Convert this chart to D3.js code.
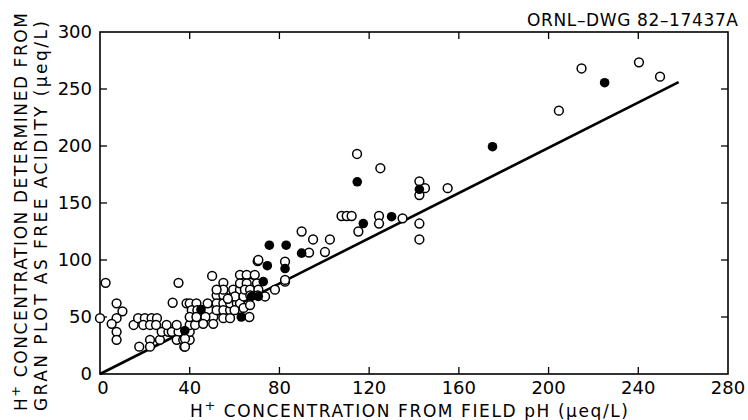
<!DOCTYPE html>
<html>
<head>
<meta charset="utf-8">
<script src="https://cdn.jsdelivr.net/npm/d3@7"></script>
<style>
  body { margin: 0; background: #fff; }
  text { font-family: "DejaVu Sans", sans-serif; fill: #000; }
</style>
</head>
<body>
<div id="viz"></div>
<script>
// tick values
var xTicks = [0, 40, 80, 120, 160, 200, 240, 280];
var yTicks = [0, 50, 100, 150, 200, 250, 300];

// open circles [field pH H+, Gran plot H+]
var openPts = [
  [0,49],[2.5,80],[7.4,62],[10,55],[7.4,49],[5.2,44],[7.4,37],[7.4,30],
  [15,43],[17,49],[20,49],[23,49],[25.4,49],[19.3,43],[22.3,43],[25,43],[22.3,30],[26.7,30],
  [17.5,24],[22.3,24],[27.5,37],[30.5,37],[29.7,43],[32,37],[35,37],[34.2,43],[34.2,30],
  [37.1,30],[40,30],[37.6,24],[40,37],[40,43],[35,80],[32.4,62.5],
  [38.6,62],[40,62],[43,62],[40.9,56],[43.4,56],[48.5,56],[42.4,49],[45.3,49],[42.4,43],
  [40,50],[43,50],[50.5,50],[50.5,44],[50,86],[52,69],[55,69],[55,80],[52,62],[55,62],
  [52,56],[55,56],[58,56],[55,49],[58,49],[58,62],[61,62],[61,69],[64,69],[55,74],[59.4,69],
  [62.4,62],[59.4,74],[62.4,74],[60.2,68],[64,68],[37.9,31],[37.9,24],
  [47,50],[48,62],[52,74],[57,66],[60,56],[64,58],[46,44],
  [62.4,87],[65.4,87],[69,87],[64,80],[67,80],[62.4,79.5],[65.4,79.5],[70,79.5],
  [64.6,74],[66.9,74],[70.6,74],[67,69],[70.3,69],[73.6,68],[66.6,50],[66.9,60.5],
  [70.3,99],[82.5,98.5],[82.5,81],[78,74],[70.6,100],[82.5,82.5],
  [89.9,125],[95,118],[102.5,118],[93.2,106.4],[100.3,107],[107.7,138.6],[110,138.6],
  [112.2,138.6],[115.2,125],[124.4,138.6],[124.4,132],[134.9,136.6],[142.4,132],[142.4,118],
  [142.4,169],[142.4,157],[144.9,163],[155,163],[114.6,193],[125,180.5],
  [204.6,231],[214.7,268],[240.3,273.4],[249.7,260.8]
];

// filled circles
var filledPts = [
  [37.8,38],[45,56.5],[63,50],[67.6,68],[70.6,68],[72.8,81],[74.6,95],[82.5,92.5],
  [75.5,113],[83,113],[89.9,106],[114.7,168.6],[117.4,132],[130,138],[142.4,162],
  [175,199.4],[225,255.5]
];

// fitted line end points
var lineX = [0, 258];
var lineY = [0, 256];

var svg = d3.select('#viz').append('svg')
  .attr('width', 748)
  .attr('height', 420);

var x = d3.scaleLinear().domain([0, 280]).range([100, 728]);
var y = d3.scaleLinear().domain([0, 300]).range([374, 32]);

// frame
svg.append('rect')
  .attr('x', x(0)).attr('y', y(300))
  .attr('width', x(280) - x(0)).attr('height', y(0) - y(300))
  .style('fill', 'none').style('stroke', '#000').style('stroke-width', 1.6);

// inside ticks on all four sides
var tk = 7;
var inner = xTicks.slice(1, -1);
svg.selectAll('line.xb').data(inner).join('line').attr('class', 'xb')
  .attr('x1', d => x(d)).attr('x2', d => x(d))
  .attr('y1', y(0)).attr('y2', y(0) - tk)
  .style('stroke', '#000').style('stroke-width', 1.3);
svg.selectAll('line.xt').data(inner).join('line').attr('class', 'xt')
  .attr('x1', d => x(d)).attr('x2', d => x(d))
  .attr('y1', y(300)).attr('y2', y(300) + tk)
  .style('stroke', '#000').style('stroke-width', 1.3);
var innerY = yTicks.slice(1, -1);
svg.selectAll('line.yl').data(innerY).join('line').attr('class', 'yl')
  .attr('x1', x(0)).attr('x2', x(0) + tk)
  .attr('y1', d => y(d)).attr('y2', d => y(d))
  .style('stroke', '#000').style('stroke-width', 1.3);
svg.selectAll('line.yr').data(innerY).join('line').attr('class', 'yr')
  .attr('x1', x(280)).attr('x2', x(280) - tk)
  .attr('y1', d => y(d)).attr('y2', d => y(d))
  .style('stroke', '#000').style('stroke-width', 1.3);

// tick labels
svg.selectAll('text.xl').data(xTicks).join('text').attr('class', 'xl')
  .attr('x', d => x(d) + (d == 0 ? 3 : 0))
  .attr('y', 394)
  .attr('text-anchor', 'middle')
  .style('font-size', '18px')
  .text(d => d);
svg.selectAll('text.ylab').data(yTicks).join('text').attr('class', 'ylab')
  .attr('x', 92)
  .attr('y', d => y(d))
  .attr('dy', '0.36em')
  .attr('text-anchor', 'end')
  .style('font-size', '18px')
  .text(d => d);

// fitted line
var Gen = d3.line().x(d => x(d[0])).y(d => y(d[1]));
svg.append('path')
  .attr('d', Gen(lineX.map((v, i) => [v, lineY[i]])))
  .style('fill', 'none').style('stroke', '#000').style('stroke-width', 2.6);

// points
svg.selectAll('circle.o').data(openPts).join('circle').attr('class', 'o')
  .attr('cx', d => x(d[0])).attr('cy', d => y(d[1]))
  .attr('r', 4.4)
  .style('fill', '#fff').style('stroke', '#000').style('stroke-width', 1.5);
svg.selectAll('circle.f').data(filledPts).join('circle').attr('class', 'f')
  .attr('cx', d => x(d[0])).attr('cy', d => y(d[1]))
  .attr('r', 4.8)
  .style('fill', '#000');

// axis titles
var xt = svg.append('text')
  .attr('x', 190).attr('y', 417)
  .attr('textLength', 438).attr('lengthAdjust', 'spacing')
  .style('font-size', '17px');
xt.append('tspan').text('H');
xt.append('tspan').attr('dy', -7).style('font-size', '13px').text('+');
xt.append('tspan').attr('dy', 7).text('  CONCENTRATION FROM FIELD pH  (\u03bceq/L)');

var yt1 = svg.append('text')
  .attr('transform', 'translate(27,411) rotate(-90)')
  .attr('textLength', 398).attr('lengthAdjust', 'spacing')
  .style('font-size', '17px');
yt1.append('tspan').text('H');
yt1.append('tspan').attr('dy', -7).style('font-size', '13px').text('+');
yt1.append('tspan').attr('dy', 7).text(' CONCENTRATION DETERMINED FROM');

svg.append('text')
  .attr('transform', 'translate(47,411) rotate(-90)')
  .attr('textLength', 390).attr('lengthAdjust', 'spacing')
  .style('font-size', '17px')
  .text('GRAN PLOT AS FREE  ACIDITY (\u03bceq/L)');

// drawing number
svg.append('text')
  .attr('x', 527).attr('y', 26)
  .attr('textLength', 211).attr('lengthAdjust', 'spacing')
  .style('font-size', '17px')
  .text('ORNL\u2013DWG 82\u201317437A');
</script>
</body>
</html>
